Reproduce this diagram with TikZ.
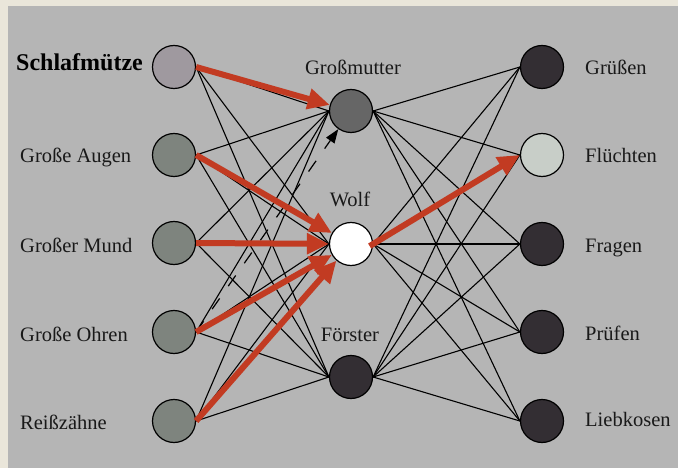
\documentclass[tikz,border=0pt]{standalone}
\usepackage{fontspec}
\setmainfont{Liberation Serif}
\usetikzlibrary{arrows.meta}
\definecolor{bgbeige}{HTML}{EAE6DA}
\definecolor{panelgrey}{HTML}{B5B5B5}
\definecolor{sleepc}{HTML}{9F999F}
\definecolor{inputc}{HTML}{7E847E}
\definecolor{grandc}{HTML}{666666}
\definecolor{darkc}{HTML}{332E33}
\definecolor{fleec}{HTML}{C8CEC8}
\definecolor{arrowred}{HTML}{C23B22}
\pgfdeclarelayer{bg}
\pgfsetlayers{bg,main}
\tikzset{
  neuron/.style={circle, draw=black, line width=1.2pt, minimum size=43pt, inner sep=0pt},
  wire/.style={draw=black, line width=1.1pt},
  redarrow/.style={draw=arrowred, line width=6pt, -{Triangle[length=22pt,width=20pt]}},
  dasharrow/.style={draw=black, line width=1.2pt, dash pattern=on 13pt off 15pt, -{Triangle[length=14pt,width=10pt]}},
  lbl/.style={font=\fontsize{20.5}{24}\selectfont, inner sep=0pt, text=black!90},
  boldlbl/.style={font=\fontsize{24}{28}\selectfont\bfseries, inner sep=0pt, text=black}
}
\begin{document}
\begin{tikzpicture}[x=1pt,y=-1pt]
\useasboundingbox (0,0) rectangle (678,468);
\begin{pgfonlayer}{bg}
\fill[bgbeige] (0,0) rectangle (678,468);
\fill[panelgrey] (8,6) rectangle (678,468);
\end{pgfonlayer}

% input layer
\node[neuron, fill=sleepc] (s1) at (174,67) {};
\node[neuron, fill=inputc] (s2) at (174,155) {};
\node[neuron, fill=inputc] (s3) at (174,243) {};
\node[neuron, fill=inputc] (s4) at (174,332) {};
\node[neuron, fill=inputc] (s5) at (174,421) {};
% hidden layer
\node[neuron, fill=grandc] (m1) at (351,111) {};
\node[neuron, fill=white] (m2) at (351,244) {};
\node[neuron, fill=darkc] (m3) at (351,377) {};
% output layer
\node[neuron, fill=darkc] (r1) at (542,67) {};
\node[neuron, fill=fleec] (r2) at (542,155) {};
\node[neuron, fill=darkc] (r3) at (542,244) {};
\node[neuron, fill=darkc] (r4) at (542,332) {};
\node[neuron, fill=darkc] (r5) at (542,421) {};

% labels
\node[boldlbl, anchor=base west] (ls1) at (16,71) {Schlafmütze};
\node[lbl, anchor=base west] (ls2) at (20,163) {Große Augen};
\node[lbl, anchor=base west] (ls3) at (20,252) {Großer Mund};
\node[lbl, anchor=base west] (ls4) at (20,341) {Große Ohren};
\node[lbl, anchor=base west] (ls5) at (20,429) {Reißzähne};
\node[lbl, anchor=base] (lm1) at (353,75) {Großmutter};
\node[lbl, anchor=base] (lm2) at (350,207) {Wolf};
\node[lbl, anchor=base] (lm3) at (350,341) {Förster};
\node[lbl, anchor=base west] (lr1) at (585,75) {Grüßen};
\node[lbl, anchor=base west] (lr2) at (585,163) {Flüchten};
\node[lbl, anchor=base west] (lr3) at (585,252) {Fragen};
\node[lbl, anchor=base west] (lr4) at (585,340) {Prüfen};
\node[lbl, anchor=base west] (lr5) at (585,426) {Liebkosen};

% wires
\begin{pgfonlayer}{bg}
\foreach \a in {s1,s2,s3,s4,s5}
  \foreach \b in {m1,m2,m3}
    \draw[wire] (\a.east) -- (\b.west);
\foreach \a in {m1,m2,m3}
  \foreach \b in {r1,r2,r3,r4,r5}
    \draw[wire] (\a.east) -- (\b.west);
\end{pgfonlayer}

% dashed arrow
\draw[dasharrow] (s4.east) -- (m1);

% red arrows
\draw[redarrow] (s1.east) -- (m1);
\draw[redarrow] (s2.east) -- (m2);
\draw[redarrow] (s3.east) -- (m2);
\draw[redarrow] (s4.east) -- (m2);
\draw[redarrow] (s5.east) -- (m2);
\draw[redarrow, shorten <=-4pt] (m2.east) -- (r2.west);
\end{tikzpicture}
\end{document}
